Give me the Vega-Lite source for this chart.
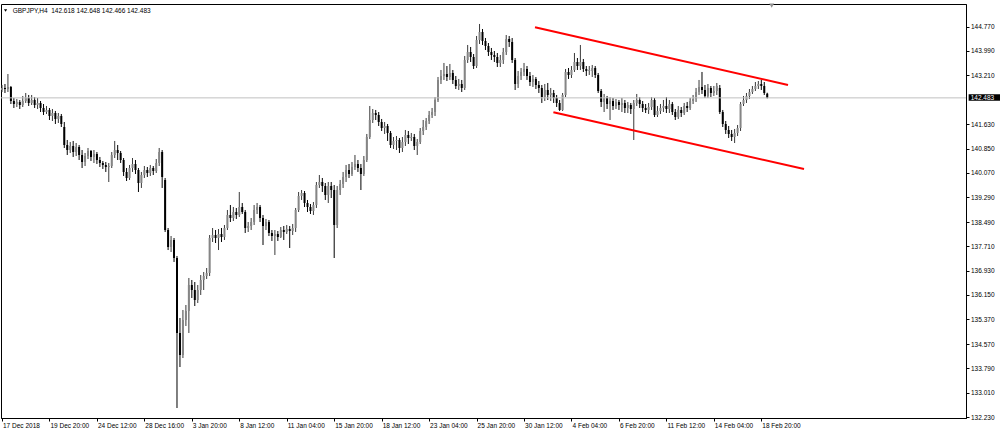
{
"$schema": "https://vega.github.io/schema/vega-lite/v6.json",
"width": 965,
"height": 414,
"autosize": {"type": "none"},
"padding": {"left": 1, "top": 4, "right": 34, "bottom": 15},
"background": "#ffffff",
"config": {
"view": {"stroke": "#000000", "strokeWidth": 1},
"font": "Liberation Sans",
"axis": {"title": null, "grid": false, "labelFontSize": 6.5, "labelColor": "#000000", "labelFont": "Liberation Sans", "tickSize": 3, "tickColor": "#000000", "domainColor": "#000000", "labelFlush": false, "labelBound": false}
},
"datasets": {
"candles": [
{"i":0,"o":142.736,"h":142.897,"l":142.672,"c":142.801},
{"i":1,"o":142.801,"h":142.929,"l":142.640,"c":142.768},
{"i":2,"o":142.768,"h":143.250,"l":142.672,"c":142.833},
{"i":3,"o":142.833,"h":142.865,"l":142.286,"c":142.383},
{"i":4,"o":142.383,"h":142.479,"l":142.158,"c":142.286},
{"i":5,"o":142.286,"h":142.447,"l":142.190,"c":142.351},
{"i":6,"o":142.351,"h":142.415,"l":142.126,"c":142.254},
{"i":7,"o":142.254,"h":142.544,"l":142.190,"c":142.383},
{"i":8,"o":142.383,"h":142.640,"l":142.319,"c":142.479},
{"i":9,"o":142.479,"h":142.576,"l":142.222,"c":142.319},
{"i":10,"o":142.319,"h":142.576,"l":142.254,"c":142.415},
{"i":11,"o":142.415,"h":142.511,"l":142.158,"c":142.254},
{"i":12,"o":142.254,"h":142.479,"l":142.126,"c":142.319},
{"i":13,"o":142.319,"h":142.383,"l":142.029,"c":142.158},
{"i":14,"o":142.158,"h":142.286,"l":141.933,"c":142.029},
{"i":15,"o":142.029,"h":142.222,"l":141.965,"c":142.094},
{"i":16,"o":142.094,"h":142.158,"l":141.772,"c":141.901},
{"i":17,"o":141.901,"h":142.126,"l":141.740,"c":141.997},
{"i":18,"o":141.997,"h":142.062,"l":141.644,"c":141.805},
{"i":19,"o":141.805,"h":141.997,"l":141.676,"c":141.901},
{"i":20,"o":141.901,"h":141.965,"l":141.547,"c":141.644},
{"i":21,"o":141.547,"h":141.708,"l":140.873,"c":140.969},
{"i":22,"o":140.969,"h":141.130,"l":140.648,"c":140.808},
{"i":23,"o":140.808,"h":141.066,"l":140.712,"c":140.937},
{"i":24,"o":140.937,"h":141.098,"l":140.584,"c":140.744},
{"i":25,"o":140.744,"h":141.033,"l":140.616,"c":140.905},
{"i":26,"o":140.905,"h":140.969,"l":140.487,"c":140.648},
{"i":27,"o":140.648,"h":140.808,"l":140.230,"c":140.423},
{"i":28,"o":140.423,"h":140.712,"l":140.294,"c":140.616},
{"i":29,"o":140.616,"h":140.873,"l":140.519,"c":140.776},
{"i":30,"o":140.776,"h":140.808,"l":140.455,"c":140.584},
{"i":31,"o":140.584,"h":140.808,"l":140.391,"c":140.680},
{"i":32,"o":140.680,"h":140.744,"l":140.359,"c":140.487},
{"i":33,"o":140.487,"h":140.584,"l":140.262,"c":140.391},
{"i":34,"o":140.391,"h":140.455,"l":140.198,"c":140.327},
{"i":35,"o":140.327,"h":140.423,"l":140.102,"c":140.262},
{"i":36,"o":140.262,"h":140.391,"l":139.780,"c":140.294},
{"i":37,"o":140.294,"h":140.744,"l":140.230,"c":140.648},
{"i":38,"o":140.648,"h":141.098,"l":140.551,"c":140.808},
{"i":39,"o":140.808,"h":140.969,"l":140.487,"c":140.712},
{"i":40,"o":140.712,"h":140.776,"l":140.391,"c":140.487},
{"i":41,"o":140.487,"h":140.551,"l":139.973,"c":140.102},
{"i":42,"o":140.102,"h":140.230,"l":139.812,"c":139.909},
{"i":43,"o":139.909,"h":140.327,"l":139.845,"c":140.230},
{"i":44,"o":140.230,"h":140.551,"l":140.102,"c":140.359},
{"i":45,"o":140.359,"h":140.487,"l":140.037,"c":140.166},
{"i":46,"o":140.166,"h":140.230,"l":139.459,"c":139.748},
{"i":47,"o":139.748,"h":140.102,"l":139.588,"c":140.005},
{"i":48,"o":140.005,"h":140.294,"l":139.909,"c":140.166},
{"i":49,"o":140.166,"h":140.262,"l":139.941,"c":140.070},
{"i":50,"o":140.070,"h":140.327,"l":139.973,"c":140.230},
{"i":51,"o":140.230,"h":140.294,"l":140.005,"c":140.134},
{"i":52,"o":140.134,"h":140.519,"l":140.070,"c":140.391},
{"i":53,"o":140.391,"h":140.873,"l":140.294,"c":140.744},
{"i":54,"o":140.744,"h":140.808,"l":139.588,"c":139.941},
{"i":55,"o":139.845,"h":139.909,"l":138.174,"c":138.238},
{"i":56,"o":138.238,"h":138.302,"l":137.595,"c":137.692},
{"i":57,"o":137.692,"h":138.045,"l":137.531,"c":137.917},
{"i":58,"o":137.917,"h":137.981,"l":137.210,"c":137.338},
{"i":59,"o":137.338,"h":137.403,"l":132.519,"c":134.929},
{"i":60,"o":134.929,"h":135.411,"l":133.836,"c":134.222},
{"i":61,"o":134.222,"h":135.668,"l":134.125,"c":135.346},
{"i":62,"o":135.346,"h":135.828,"l":135.154,"c":135.636},
{"i":63,"o":135.636,"h":136.696,"l":134.929,"c":136.471},
{"i":64,"o":136.471,"h":136.632,"l":136.053,"c":136.310},
{"i":65,"o":136.310,"h":136.567,"l":135.796,"c":135.989},
{"i":66,"o":135.989,"h":136.471,"l":135.893,"c":136.310},
{"i":67,"o":136.310,"h":136.792,"l":136.150,"c":136.632},
{"i":68,"o":136.632,"h":136.889,"l":136.310,"c":136.760},
{"i":69,"o":136.760,"h":137.017,"l":136.664,"c":136.857},
{"i":70,"o":136.857,"h":138.077,"l":136.760,"c":137.981},
{"i":71,"o":137.981,"h":138.302,"l":137.853,"c":138.077},
{"i":72,"o":138.077,"h":138.238,"l":137.820,"c":137.981},
{"i":73,"o":137.981,"h":138.270,"l":137.595,"c":138.110},
{"i":74,"o":138.110,"h":138.302,"l":137.853,"c":138.013},
{"i":75,"o":138.013,"h":138.399,"l":137.917,"c":138.302},
{"i":76,"o":138.302,"h":138.881,"l":138.238,"c":138.720},
{"i":77,"o":138.720,"h":139.041,"l":138.495,"c":138.624},
{"i":78,"o":138.624,"h":138.977,"l":138.527,"c":138.816},
{"i":79,"o":138.816,"h":138.945,"l":138.592,"c":138.720},
{"i":80,"o":138.720,"h":139.459,"l":138.656,"c":138.977},
{"i":81,"o":138.977,"h":139.106,"l":138.752,"c":138.816},
{"i":82,"o":138.816,"h":138.881,"l":138.142,"c":138.302},
{"i":83,"o":138.302,"h":138.495,"l":138.174,"c":138.367},
{"i":84,"o":138.367,"h":138.624,"l":138.238,"c":138.495},
{"i":85,"o":138.495,"h":139.041,"l":138.399,"c":138.881},
{"i":86,"o":138.881,"h":139.106,"l":138.752,"c":138.977},
{"i":87,"o":138.977,"h":139.041,"l":138.495,"c":138.624},
{"i":88,"o":138.624,"h":138.720,"l":137.756,"c":138.367},
{"i":89,"o":138.367,"h":138.592,"l":138.238,"c":138.495},
{"i":90,"o":138.495,"h":138.559,"l":138.045,"c":138.142},
{"i":91,"o":138.142,"h":138.238,"l":137.885,"c":138.045},
{"i":92,"o":138.045,"h":138.238,"l":137.435,"c":138.110},
{"i":93,"o":138.110,"h":138.206,"l":137.885,"c":138.013},
{"i":94,"o":138.013,"h":138.334,"l":137.981,"c":138.238},
{"i":95,"o":138.238,"h":138.367,"l":137.917,"c":138.174},
{"i":96,"o":138.174,"h":138.399,"l":138.110,"c":138.270},
{"i":97,"o":138.270,"h":138.367,"l":137.660,"c":138.206},
{"i":98,"o":138.206,"h":138.431,"l":138.077,"c":138.302},
{"i":99,"o":138.302,"h":138.945,"l":138.174,"c":138.881},
{"i":100,"o":138.881,"h":139.459,"l":138.816,"c":139.331},
{"i":101,"o":139.331,"h":139.523,"l":139.202,"c":139.427},
{"i":102,"o":139.427,"h":139.491,"l":138.977,"c":139.106},
{"i":103,"o":139.106,"h":139.202,"l":138.816,"c":138.977},
{"i":104,"o":138.977,"h":139.073,"l":138.752,"c":138.849},
{"i":105,"o":138.849,"h":139.138,"l":138.720,"c":139.041},
{"i":106,"o":139.041,"h":139.780,"l":138.945,"c":139.684},
{"i":107,"o":139.684,"h":140.005,"l":139.588,"c":139.780},
{"i":108,"o":139.780,"h":139.909,"l":139.459,"c":139.652},
{"i":109,"o":139.652,"h":139.748,"l":139.202,"c":139.363},
{"i":110,"o":139.363,"h":139.780,"l":139.106,"c":139.652},
{"i":111,"o":139.652,"h":139.780,"l":139.266,"c":139.523},
{"i":112,"o":139.523,"h":139.684,"l":137.338,"c":138.399},
{"i":113,"o":138.399,"h":139.652,"l":138.302,"c":139.523},
{"i":114,"o":139.523,"h":139.845,"l":139.363,"c":139.716},
{"i":115,"o":139.716,"h":140.102,"l":139.588,"c":139.941},
{"i":116,"o":139.941,"h":140.327,"l":139.780,"c":140.166},
{"i":117,"o":140.166,"h":140.359,"l":139.909,"c":140.037},
{"i":118,"o":140.037,"h":140.423,"l":139.973,"c":140.262},
{"i":119,"o":140.262,"h":140.648,"l":140.166,"c":140.359},
{"i":120,"o":140.359,"h":140.487,"l":140.102,"c":140.230},
{"i":121,"o":140.230,"h":140.359,"l":139.523,"c":140.037},
{"i":122,"o":140.037,"h":140.616,"l":139.973,"c":140.487},
{"i":123,"o":140.487,"h":141.323,"l":140.423,"c":141.226},
{"i":124,"o":141.226,"h":142.222,"l":141.162,"c":141.772},
{"i":125,"o":141.772,"h":142.126,"l":141.676,"c":141.997},
{"i":126,"o":141.997,"h":142.094,"l":141.772,"c":141.933},
{"i":127,"o":141.933,"h":142.029,"l":141.580,"c":141.708},
{"i":128,"o":141.708,"h":141.805,"l":141.419,"c":141.515},
{"i":129,"o":141.515,"h":141.708,"l":141.323,"c":141.580},
{"i":130,"o":141.580,"h":141.644,"l":141.098,"c":141.355},
{"i":131,"o":141.355,"h":141.419,"l":140.873,"c":140.969},
{"i":132,"o":140.969,"h":141.226,"l":140.841,"c":141.098},
{"i":133,"o":141.098,"h":141.258,"l":140.808,"c":141.130},
{"i":134,"o":141.130,"h":141.194,"l":140.712,"c":140.873},
{"i":135,"o":140.873,"h":141.226,"l":140.744,"c":141.066},
{"i":136,"o":141.066,"h":141.451,"l":140.937,"c":141.290},
{"i":137,"o":141.290,"h":141.419,"l":141.001,"c":141.194},
{"i":138,"o":141.194,"h":141.355,"l":141.098,"c":141.226},
{"i":139,"o":141.226,"h":141.323,"l":140.808,"c":140.937},
{"i":140,"o":140.937,"h":141.162,"l":140.648,"c":141.066},
{"i":141,"o":141.066,"h":141.515,"l":141.001,"c":141.419},
{"i":142,"o":141.419,"h":141.772,"l":141.290,"c":141.547},
{"i":143,"o":141.547,"h":141.837,"l":141.451,"c":141.740},
{"i":144,"o":141.740,"h":142.062,"l":141.644,"c":141.933},
{"i":145,"o":141.933,"h":142.158,"l":141.837,"c":142.029},
{"i":146,"o":142.029,"h":142.511,"l":141.901,"c":142.415},
{"i":147,"o":142.415,"h":143.154,"l":142.351,"c":143.058},
{"i":148,"o":143.058,"h":143.379,"l":142.929,"c":143.186},
{"i":149,"o":143.186,"h":143.604,"l":143.058,"c":143.250},
{"i":150,"o":143.250,"h":143.507,"l":143.025,"c":143.154},
{"i":151,"o":143.154,"h":143.572,"l":143.058,"c":143.283},
{"i":152,"o":143.283,"h":143.379,"l":142.929,"c":143.058},
{"i":153,"o":143.058,"h":143.186,"l":142.768,"c":142.865},
{"i":154,"o":142.865,"h":143.090,"l":142.736,"c":142.929},
{"i":155,"o":142.929,"h":143.058,"l":142.672,"c":142.801},
{"i":156,"o":142.801,"h":143.829,"l":142.736,"c":143.700},
{"i":157,"o":143.700,"h":144.182,"l":143.604,"c":143.957},
{"i":158,"o":143.957,"h":144.118,"l":143.636,"c":143.797},
{"i":159,"o":143.797,"h":143.893,"l":143.411,"c":143.507},
{"i":160,"o":143.507,"h":144.471,"l":143.443,"c":144.343},
{"i":161,"o":144.343,"h":144.857,"l":144.214,"c":144.600},
{"i":162,"o":144.600,"h":144.696,"l":144.182,"c":144.311},
{"i":163,"o":144.311,"h":144.407,"l":144.021,"c":144.150},
{"i":164,"o":144.150,"h":144.246,"l":143.829,"c":143.957},
{"i":165,"o":143.957,"h":144.086,"l":143.700,"c":143.861},
{"i":166,"o":143.861,"h":143.989,"l":143.636,"c":143.797},
{"i":167,"o":143.797,"h":143.925,"l":143.475,"c":143.604},
{"i":168,"o":143.604,"h":143.861,"l":143.475,"c":143.700},
{"i":169,"o":143.700,"h":144.086,"l":143.572,"c":143.957},
{"i":170,"o":143.957,"h":144.503,"l":143.861,"c":144.375},
{"i":171,"o":144.375,"h":144.471,"l":144.118,"c":144.279},
{"i":172,"o":144.279,"h":144.407,"l":143.604,"c":143.700},
{"i":173,"o":143.700,"h":143.764,"l":142.736,"c":142.929},
{"i":174,"o":142.929,"h":143.347,"l":142.801,"c":143.186},
{"i":175,"o":143.186,"h":143.443,"l":143.058,"c":143.315},
{"i":176,"o":143.315,"h":143.604,"l":143.186,"c":143.411},
{"i":177,"o":143.411,"h":143.507,"l":143.058,"c":143.186},
{"i":178,"o":143.186,"h":143.315,"l":142.865,"c":142.993},
{"i":179,"o":142.993,"h":143.218,"l":142.833,"c":143.090},
{"i":180,"o":143.090,"h":143.154,"l":142.768,"c":142.897},
{"i":181,"o":142.897,"h":143.025,"l":142.640,"c":142.801},
{"i":182,"o":142.801,"h":142.897,"l":142.319,"c":142.511},
{"i":183,"o":142.511,"h":142.929,"l":142.383,"c":142.736},
{"i":184,"o":142.736,"h":142.961,"l":142.415,"c":142.576},
{"i":185,"o":142.576,"h":142.801,"l":142.383,"c":142.640},
{"i":186,"o":142.640,"h":142.736,"l":142.319,"c":142.479},
{"i":187,"o":142.479,"h":142.576,"l":142.190,"c":142.319},
{"i":188,"o":142.319,"h":142.415,"l":142.062,"c":142.094},
{"i":189,"o":142.094,"h":142.640,"l":142.062,"c":142.576},
{"i":190,"o":142.576,"h":143.411,"l":142.511,"c":143.315},
{"i":191,"o":143.315,"h":143.443,"l":143.090,"c":143.218},
{"i":192,"o":143.218,"h":143.507,"l":143.122,"c":143.379},
{"i":193,"o":143.379,"h":143.925,"l":143.315,"c":143.636},
{"i":194,"o":143.636,"h":143.764,"l":143.379,"c":143.507},
{"i":195,"o":143.507,"h":144.182,"l":143.379,"c":143.636},
{"i":196,"o":143.636,"h":143.732,"l":143.315,"c":143.411},
{"i":197,"o":143.411,"h":143.507,"l":143.186,"c":143.347},
{"i":198,"o":143.347,"h":143.507,"l":143.218,"c":143.379},
{"i":199,"o":143.347,"h":143.540,"l":143.154,"c":143.443},
{"i":200,"o":143.443,"h":143.507,"l":143.122,"c":143.218},
{"i":201,"o":143.218,"h":143.283,"l":142.640,"c":142.704},
{"i":202,"o":142.704,"h":142.768,"l":142.190,"c":142.351},
{"i":203,"o":142.351,"h":142.608,"l":142.029,"c":142.479},
{"i":204,"o":142.479,"h":142.544,"l":142.126,"c":142.286},
{"i":205,"o":142.286,"h":142.511,"l":141.772,"c":142.383},
{"i":206,"o":142.383,"h":142.479,"l":142.094,"c":142.222},
{"i":207,"o":142.222,"h":142.447,"l":142.126,"c":142.351},
{"i":208,"o":142.351,"h":142.415,"l":142.094,"c":142.254},
{"i":209,"o":142.254,"h":142.479,"l":142.029,"c":142.319},
{"i":210,"o":142.319,"h":142.415,"l":141.997,"c":142.158},
{"i":211,"o":142.158,"h":142.351,"l":141.997,"c":142.254},
{"i":212,"o":142.254,"h":142.319,"l":141.965,"c":142.126},
{"i":213,"o":142.126,"h":142.415,"l":141.130,"c":142.319},
{"i":214,"o":142.319,"h":142.608,"l":142.222,"c":142.415},
{"i":215,"o":142.415,"h":142.511,"l":142.158,"c":142.286},
{"i":216,"o":142.286,"h":142.383,"l":142.029,"c":142.158},
{"i":217,"o":142.158,"h":142.286,"l":141.997,"c":142.094},
{"i":218,"o":142.094,"h":142.319,"l":141.965,"c":142.190},
{"i":219,"o":142.190,"h":142.511,"l":142.094,"c":142.415},
{"i":220,"o":142.415,"h":142.479,"l":141.869,"c":141.933},
{"i":221,"o":141.933,"h":142.222,"l":141.869,"c":142.062},
{"i":222,"o":142.062,"h":142.286,"l":141.965,"c":142.158},
{"i":223,"o":142.158,"h":142.415,"l":142.029,"c":142.222},
{"i":224,"o":142.222,"h":142.511,"l":141.997,"c":142.126},
{"i":225,"o":142.126,"h":142.415,"l":141.997,"c":142.286},
{"i":226,"o":142.286,"h":142.351,"l":141.933,"c":142.029},
{"i":227,"o":142.029,"h":142.126,"l":141.772,"c":141.869},
{"i":228,"o":141.869,"h":142.222,"l":141.805,"c":142.094},
{"i":229,"o":142.094,"h":142.190,"l":141.869,"c":141.997},
{"i":230,"o":141.997,"h":142.319,"l":141.933,"c":142.222},
{"i":231,"o":142.222,"h":142.351,"l":142.029,"c":142.158},
{"i":232,"o":142.158,"h":142.479,"l":142.094,"c":142.383},
{"i":233,"o":142.383,"h":142.576,"l":142.286,"c":142.447},
{"i":234,"o":142.447,"h":142.801,"l":142.351,"c":142.672},
{"i":235,"o":142.672,"h":143.058,"l":142.576,"c":142.833},
{"i":236,"o":142.833,"h":143.315,"l":142.608,"c":142.736},
{"i":237,"o":142.736,"h":142.897,"l":142.479,"c":142.544},
{"i":238,"o":142.544,"h":142.929,"l":142.479,"c":142.801},
{"i":239,"o":142.801,"h":142.865,"l":142.511,"c":142.640},
{"i":240,"o":142.640,"h":142.865,"l":142.544,"c":142.704},
{"i":241,"o":142.704,"h":142.961,"l":142.576,"c":142.865},
{"i":242,"o":142.801,"h":142.897,"l":141.965,"c":142.029},
{"i":243,"o":142.029,"h":142.094,"l":141.547,"c":141.644},
{"i":244,"o":141.644,"h":141.740,"l":141.323,"c":141.451},
{"i":245,"o":141.451,"h":141.580,"l":141.194,"c":141.323},
{"i":246,"o":141.323,"h":141.451,"l":141.098,"c":141.226},
{"i":247,"o":141.226,"h":141.483,"l":141.033,"c":141.355},
{"i":248,"o":141.355,"h":141.612,"l":141.258,"c":141.515},
{"i":249,"o":141.515,"h":142.351,"l":141.419,"c":142.286},
{"i":250,"o":142.286,"h":142.544,"l":142.222,"c":142.415},
{"i":251,"o":142.415,"h":142.640,"l":142.319,"c":142.544},
{"i":252,"o":142.544,"h":142.768,"l":142.447,"c":142.672},
{"i":253,"o":142.672,"h":142.865,"l":142.608,"c":142.768},
{"i":254,"o":142.768,"h":142.993,"l":142.704,"c":142.865},
{"i":255,"o":142.865,"h":143.025,"l":142.768,"c":142.929},
{"i":256,"o":142.929,"h":143.058,"l":142.736,"c":142.865},
{"i":257,"o":142.865,"h":142.993,"l":142.576,"c":142.640},
{"i":258,"o":142.618,"h":142.648,"l":142.466,"c":142.483}
]
},
"data": {"name": "candles"},
"encoding": {
"x": {"field": "i", "type": "quantitative", "scale": {"domain": [-0.337, 325.01], "nice": false, "zero": false, "padding": 0},
"axis": {"orient": "bottom", "values": [0,16,32,48,64,80,96,112,128,144,160,176,192,208,224,240,256],
"labelExpr": "['17 Dec 2018','19 Dec 20:00','24 Dec 12:00','28 Dec 16:00','3 Jan 20:00','8 Jan 12:00','11 Jan 04:00','15 Jan 20:00','18 Jan 12:00','23 Jan 04:00','25 Jan 20:00','30 Jan 12:00','4 Feb 04:00','6 Feb 20:00','11 Feb 12:00','14 Feb 04:00','18 Feb 20:00'][round(datum.value/16)]",
"labelAlign": "left", "labelBaseline": "top", "labelPadding": 1, "labelOffset": 0.5, "tickSize": 3, "labelOverlap": false, "labelFlush": false, "labelBound": false}}
},
"layer": [
{
"mark": {"type": "rule", "strokeWidth": 1},
"encoding": {
"y": {"field": "l", "type": "quantitative", "scale": {"domain": [132.198, 145.499], "nice": false, "zero": false, "padding": 0},
"axis": {"orient": "right", "values": [144.77,143.99,143.21,141.63,140.85,140.07,139.29,138.49,137.71,136.93,136.15,135.37,134.57,133.79,133.01,132.23], "format": ".3f", "labelAlign": "left", "labelBaseline": "middle", "labelPadding": 1.5, "tickSize": 3, "labelOverlap": false, "labelSeparation": -30}},
"y2": {"field": "h"},
"color": {"condition": {"test": "datum.c >= datum.o", "value": "#3a3a3a"}, "value": "#000000"}
}
},
{
"mark": {"type": "bar", "width": 2},
"encoding": {
"y": {"field": "o", "type": "quantitative", "scale": {"domain": [132.198, 145.499], "nice": false, "zero": false, "padding": 0},
"axis": {"orient": "right", "values": [144.77,143.99,143.21,141.63,140.85,140.07,139.29,138.49,137.71,136.93,136.15,135.37,134.57,133.79,133.01,132.23], "format": ".3f", "labelAlign": "left", "labelBaseline": "middle", "labelPadding": 1.5, "tickSize": 3, "labelOverlap": false, "labelSeparation": -30}},
"y2": {"field": "c"},
"color": {"condition": {"test": "datum.c >= datum.o", "value": "#858585"}, "value": "#000000"}
}
},
{
"data": {"values": [
{"g": "price", "i": -0.337, "p": 142.483},
{"g": "price", "i": 325.01, "p": 142.483}
]},
"mark": {"type": "line", "color": "#c0c0c0", "strokeWidth": 1},
"encoding": {
"y": {"field": "p", "type": "quantitative", "scale": {"domain": [132.198, 145.499], "nice": false, "zero": false, "padding": 0},
"axis": {"orient": "right", "values": [144.77,143.99,143.21,141.63,140.85,140.07,139.29,138.49,137.71,136.93,136.15,135.37,134.57,133.79,133.01,132.23], "format": ".3f", "labelAlign": "left", "labelBaseline": "middle", "labelPadding": 1.5, "tickSize": 3, "labelOverlap": false, "labelSeparation": -30}},
"detail": {"field": "g"}
}
},
{
"data": {"values": [
{"g": "upper", "i": 179.7, "p": 144.751},
{"g": "upper", "i": 265.0, "p": 142.897},
{"g": "lower", "i": 185.9, "p": 142.020},
{"g": "lower", "i": 270.4, "p": 140.198}
]},
"mark": {"type": "line", "color": "#ff0000", "strokeWidth": 2},
"encoding": {
"y": {"field": "p", "type": "quantitative", "scale": {"domain": [132.198, 145.499], "nice": false, "zero": false, "padding": 0},
"axis": {"orient": "right", "values": [144.77,143.99,143.21,141.63,140.85,140.07,139.29,138.49,137.71,136.93,136.15,135.37,134.57,133.79,133.01,132.23], "format": ".3f", "labelAlign": "left", "labelBaseline": "middle", "labelPadding": 1.5, "tickSize": 3, "labelOverlap": false, "labelSeparation": -30}},
"detail": {"field": "g"}
}
},
{
"data": {"values": [{"t": "GBPJPY,H4\u00a0 142.618 142.648 142.466 142.483", "i": 3.6, "p": 145.284}]},
"mark": {"type": "text", "align": "left", "baseline": "middle", "fontSize": 6.5, "font": "Liberation Sans", "color": "#000000"},
"encoding": {
"y": {"field": "p", "type": "quantitative", "scale": {"domain": [132.198, 145.499], "nice": false, "zero": false, "padding": 0},
"axis": {"orient": "right", "values": [144.77,143.99,143.21,141.63,140.85,140.07,139.29,138.49,137.71,136.93,136.15,135.37,134.57,133.79,133.01,132.23], "format": ".3f", "labelAlign": "left", "labelBaseline": "middle", "labelPadding": 1.5, "tickSize": 3, "labelOverlap": false, "labelSeparation": -30}},
"text": {"field": "t"}
}
},
{
"data": {"values": [{"i": 1.2, "p": 145.29, "s": "hdr"}, {"i": 259.5, "p": 145.45, "s": "shift"}]},
"mark": {"type": "point", "shape": "triangle-down", "filled": true, "opacity": 1},
"encoding": {
"y": {"field": "p", "type": "quantitative", "scale": {"domain": [132.198, 145.499], "nice": false, "zero": false, "padding": 0},
"axis": {"orient": "right", "values": [144.77,143.99,143.21,141.63,140.85,140.07,139.29,138.49,137.71,136.93,136.15,135.37,134.57,133.79,133.01,132.23], "format": ".3f", "labelAlign": "left", "labelBaseline": "middle", "labelPadding": 1.5, "tickSize": 3, "labelOverlap": false, "labelSeparation": -30}},
"color": {"condition": {"test": "datum.s == 'hdr'", "value": "#000000"}, "value": "#909090"},
"size": {"condition": {"test": "datum.s == 'hdr'", "value": 10}, "value": 24}
}
},
{
"data": {"values": [{"i": 325.9, "x2": 336.5, "p": 142.598, "p2": 142.392}]},
"mark": {"type": "rect", "color": "#000000", "clip": false},
"encoding": {
"x2": {"field": "x2"},
"y": {"field": "p", "type": "quantitative", "scale": {"domain": [132.198, 145.499], "nice": false, "zero": false, "padding": 0},
"axis": {"orient": "right", "values": [144.77,143.99,143.21,141.63,140.85,140.07,139.29,138.49,137.71,136.93,136.15,135.37,134.57,133.79,133.01,132.23], "format": ".3f", "labelAlign": "left", "labelBaseline": "middle", "labelPadding": 1.5, "tickSize": 3, "labelOverlap": false, "labelSeparation": -30}},
"y2": {"field": "p2"}
}
},
{
"data": {"values": [{"t": "142.483", "i": 326.6, "p": 142.483}]},
"mark": {"type": "text", "align": "left", "baseline": "middle", "fontSize": 6.5, "font": "Liberation Sans", "color": "#ffffff", "clip": false},
"encoding": {
"y": {"field": "p", "type": "quantitative", "scale": {"domain": [132.198, 145.499], "nice": false, "zero": false, "padding": 0},
"axis": {"orient": "right", "values": [144.77,143.99,143.21,141.63,140.85,140.07,139.29,138.49,137.71,136.93,136.15,135.37,134.57,133.79,133.01,132.23], "format": ".3f", "labelAlign": "left", "labelBaseline": "middle", "labelPadding": 1.5, "tickSize": 3, "labelOverlap": false, "labelSeparation": -30}},
"text": {"field": "t"}
}
}
]
}
